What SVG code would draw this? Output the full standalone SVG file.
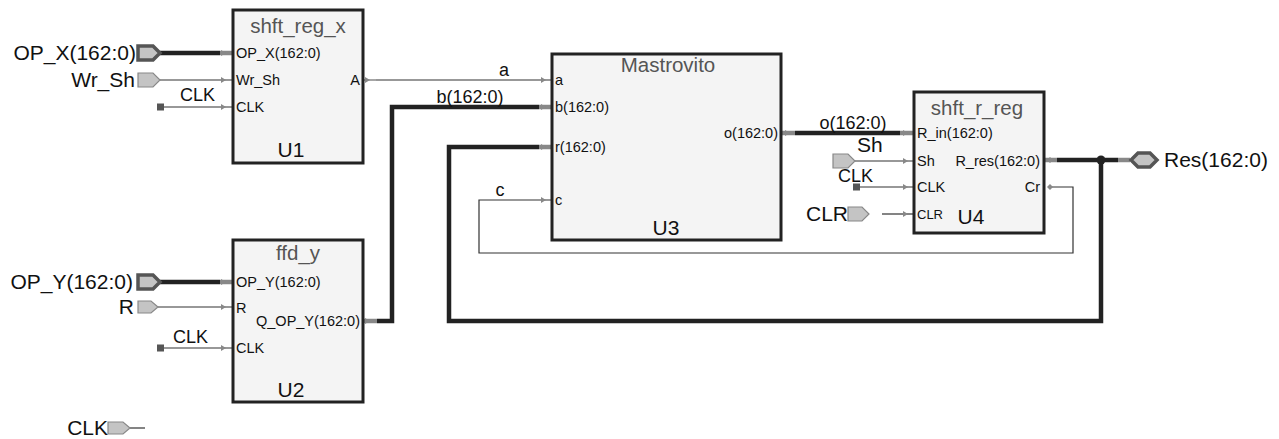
<svg xmlns="http://www.w3.org/2000/svg" width="1279" height="439" viewBox="0 0 1279 439">
<style>
text{font-family:"Liberation Sans",Arial,sans-serif;fill:#111}
.blk{fill:#f4f4f4;stroke:#222;stroke-width:3}
.ttl{font-size:20.5px;fill:#555;text-anchor:middle}
.uid{font-size:21px;text-anchor:middle}
.prt{font-size:14.5px}
.big{font-size:21px}
.nl{font-size:18px}
.w{fill:none;stroke:#333;stroke-width:1.2}
.bus{fill:none;stroke:#222;stroke-width:4.5}
.stub{fill:none;stroke:#888;stroke-width:1.5}
.bstub{fill:none;stroke:#888;stroke-width:4.5}
.pin{fill:#c4c4c4;stroke:#888;stroke-width:1.2}
.bpin{fill:#c4c4c4;stroke:#555;stroke-width:3.5}
.sq{fill:#555}
.ar{fill:#888}
</style>
<defs>
<path id="ah" d="M-5,-3 L0,0 L-5,3 z" class="ar"/>
<path id="dm" d="M-3,0 L0,-3 L3,0 L0,3 z" class="ar"/>
</defs>

<g id="connectors">
  <path class="bus" d="M160,53 H220"/><path class="bstub" d="M220,53 H233"/><use href="#ah" x="226" y="53"/>
  <path class="w" d="M160,80 H233"/><use href="#ah" x="226" y="80"/>
  <rect class="sq" x="157" y="103.5" width="7" height="7"/><path class="w" d="M164,107 H233"/><use href="#ah" x="226" y="107"/>
  <text class="nl" x="180" y="101">CLK</text>
  <path class="stub" d="M363,80 H376"/><use href="#ah" x="370" y="80"/>
  <path class="w" d="M376,80 H552"/><use href="#ah" x="546" y="80"/>
  <text class="nl" x="504" y="76" text-anchor="middle">a</text>
  <path class="bstub" d="M363,321 H377"/><use href="#ah" x="370" y="321"/>
  <path class="bus" d="M377,321 H392 V107 H539"/><path class="bstub" d="M539,107 H552"/><use href="#ah" x="546" y="107"/>
  <text class="nl" x="470" y="103" text-anchor="middle">b(162:0)</text>
  <path class="bstub" d="M539,147 H552"/><use href="#ah" x="546" y="147"/>
  <path class="bus" d="M539,147 H449 V321 H1101 V160"/>
  <path class="w" d="M552,200 H479 V253 H1073 V187 H1048"/><use href="#ah" x="546" y="200"/>
  <use href="#dm" x="1050" y="187"/>
  <text class="nl" x="500" y="196" text-anchor="middle">c</text>
  <path class="bstub" d="M781,133 H795"/><use href="#ah" x="790" y="133"/>
  <path class="bus" d="M795,133 H900"/><path class="bstub" d="M900,133 H914"/><use href="#ah" x="908" y="133"/>
  <text class="nl" x="853" y="129" text-anchor="middle">o(162:0)</text>
  <path class="w" d="M855,161 H914"/><use href="#ah" x="908" y="161"/>
  <text class="big" x="857" y="152">Sh</text>
  <rect class="sq" x="853" y="183.5" width="7" height="7"/><path class="w" d="M860,187 H914"/><use href="#ah" x="908" y="187"/>
  <text class="nl" x="838" y="182">CLK</text>
  <path class="w" d="M882,214 H914"/><use href="#ah" x="908" y="214"/>
  <path class="bstub" d="M1044,160 H1057"/><use href="#dm" x="1050" y="160"/>
  <path class="bus" d="M1057,160 H1118"/><path class="bstub" d="M1118,160 H1130"/>
  <circle cx="1101" cy="160" r="4.5" fill="#222"/>
  <path class="bus" d="M160,282 H220"/><path class="bstub" d="M220,282 H233"/><use href="#ah" x="226" y="282"/>
  <path class="w" d="M158,307 H233"/><use href="#ah" x="226" y="307"/>
  <rect class="sq" x="157" y="344.5" width="7" height="7"/><path class="w" d="M164,348 H233"/><use href="#ah" x="226" y="348"/>
  <text class="nl" x="173" y="343">CLK</text>
  <path class="w" d="M130,428 H145"/>
</g>

<g id="pins">
  <g id="pin_OP_X"><path class="bpin" d="M138,46 H153 L160,53 L153,60 H138 Z"/><text class="big" x="136" y="60" text-anchor="end">OP_X(162:0)</text></g>
  <g id="pin_Wr_Sh"><path class="pin" d="M138,73 H153 L160,80 L153,87 H138 Z"/><text class="big" x="135" y="87" text-anchor="end">Wr_Sh</text></g>
  <g id="pin_OP_Y"><path class="bpin" d="M138,275 H153 L160,282 L153,289 H138 Z"/><text class="big" x="133" y="289" text-anchor="end">OP_Y(162:0)</text></g>
  <g id="pin_R"><path class="pin" d="M138,301 H151 L158,307 L151,313 H138 Z"/><text class="big" x="134" y="314" text-anchor="end">R</text></g>
  <g id="pin_CLK"><path class="pin" d="M108,422 H123 L130,428 L123,434 H108 Z"/><text class="big" x="108" y="435" text-anchor="end">CLK</text></g>
  <g id="pin_Sh"><path class="pin" d="M833,154 H848 L855,161 L848,168 H833 Z"/></g>
  <g id="pin_CLR"><path class="pin" d="M848,207 H862 L869,214 L862,221 H848 Z"/><text class="big" x="848" y="221" text-anchor="end">CLR</text></g>
  <g id="pin_Res"><path class="bpin" d="M1131,160 L1138,153 H1150 L1157,160 L1150,167 H1138 Z"/><text class="big" x="1164" y="167">Res(162:0)</text></g>
</g>

<g id="U1">
  <rect class="blk" x="233" y="10" width="130" height="153"/>
  <text class="ttl" x="298" y="33">shft_reg_x</text>
  <text class="prt" x="236" y="58">OP_X(162:0)</text>
  <text class="prt" x="236" y="85">Wr_Sh</text>
  <text class="prt" x="236" y="112">CLK</text>
  <text class="prt" x="360" y="85" text-anchor="end">A</text>
  <text class="uid" x="291" y="157">U1</text>
</g>

<g id="U2">
  <rect class="blk" x="233" y="240" width="130" height="162"/>
  <text class="ttl" x="298" y="260">ffd_y</text>
  <text class="prt" x="236" y="287">OP_Y(162:0)</text>
  <text class="prt" x="236" y="313">R</text>
  <text class="prt" x="236" y="353">CLK</text>
  <text class="prt" x="360" y="326" text-anchor="end">Q_OP_Y(162:0)</text>
  <text class="uid" x="291" y="397">U2</text>
</g>

<g id="U3">
  <rect class="blk" x="552" y="54" width="229" height="186"/>
  <text class="ttl" x="668" y="72">Mastrovito</text>
  <text class="prt" x="555" y="85">a</text>
  <text class="prt" x="555" y="112">b(162:0)</text>
  <text class="prt" x="555" y="152">r(162:0)</text>
  <text class="prt" x="555" y="205">c</text>
  <text class="prt" x="778" y="138" text-anchor="end">o(162:0)</text>
  <text class="uid" x="666" y="235">U3</text>
</g>

<g id="U4">
  <rect class="blk" x="914" y="92" width="130" height="141"/>
  <text class="ttl" x="977" y="115">shft_r_reg</text>
  <text class="prt" x="917" y="138">R_in(162:0)</text>
  <text class="prt" x="917" y="166">Sh</text>
  <text class="prt" x="917" y="192">CLK</text>
  <text class="prt" x="917" y="219" style="font-size:13px">CLR</text>
  <text class="prt" x="1040" y="166" text-anchor="end">R_res(162:0)</text>
  <text class="prt" x="1040" y="192" text-anchor="end">Cr</text>
  <text class="uid" x="971" y="224">U4</text>
</g>
</svg>
